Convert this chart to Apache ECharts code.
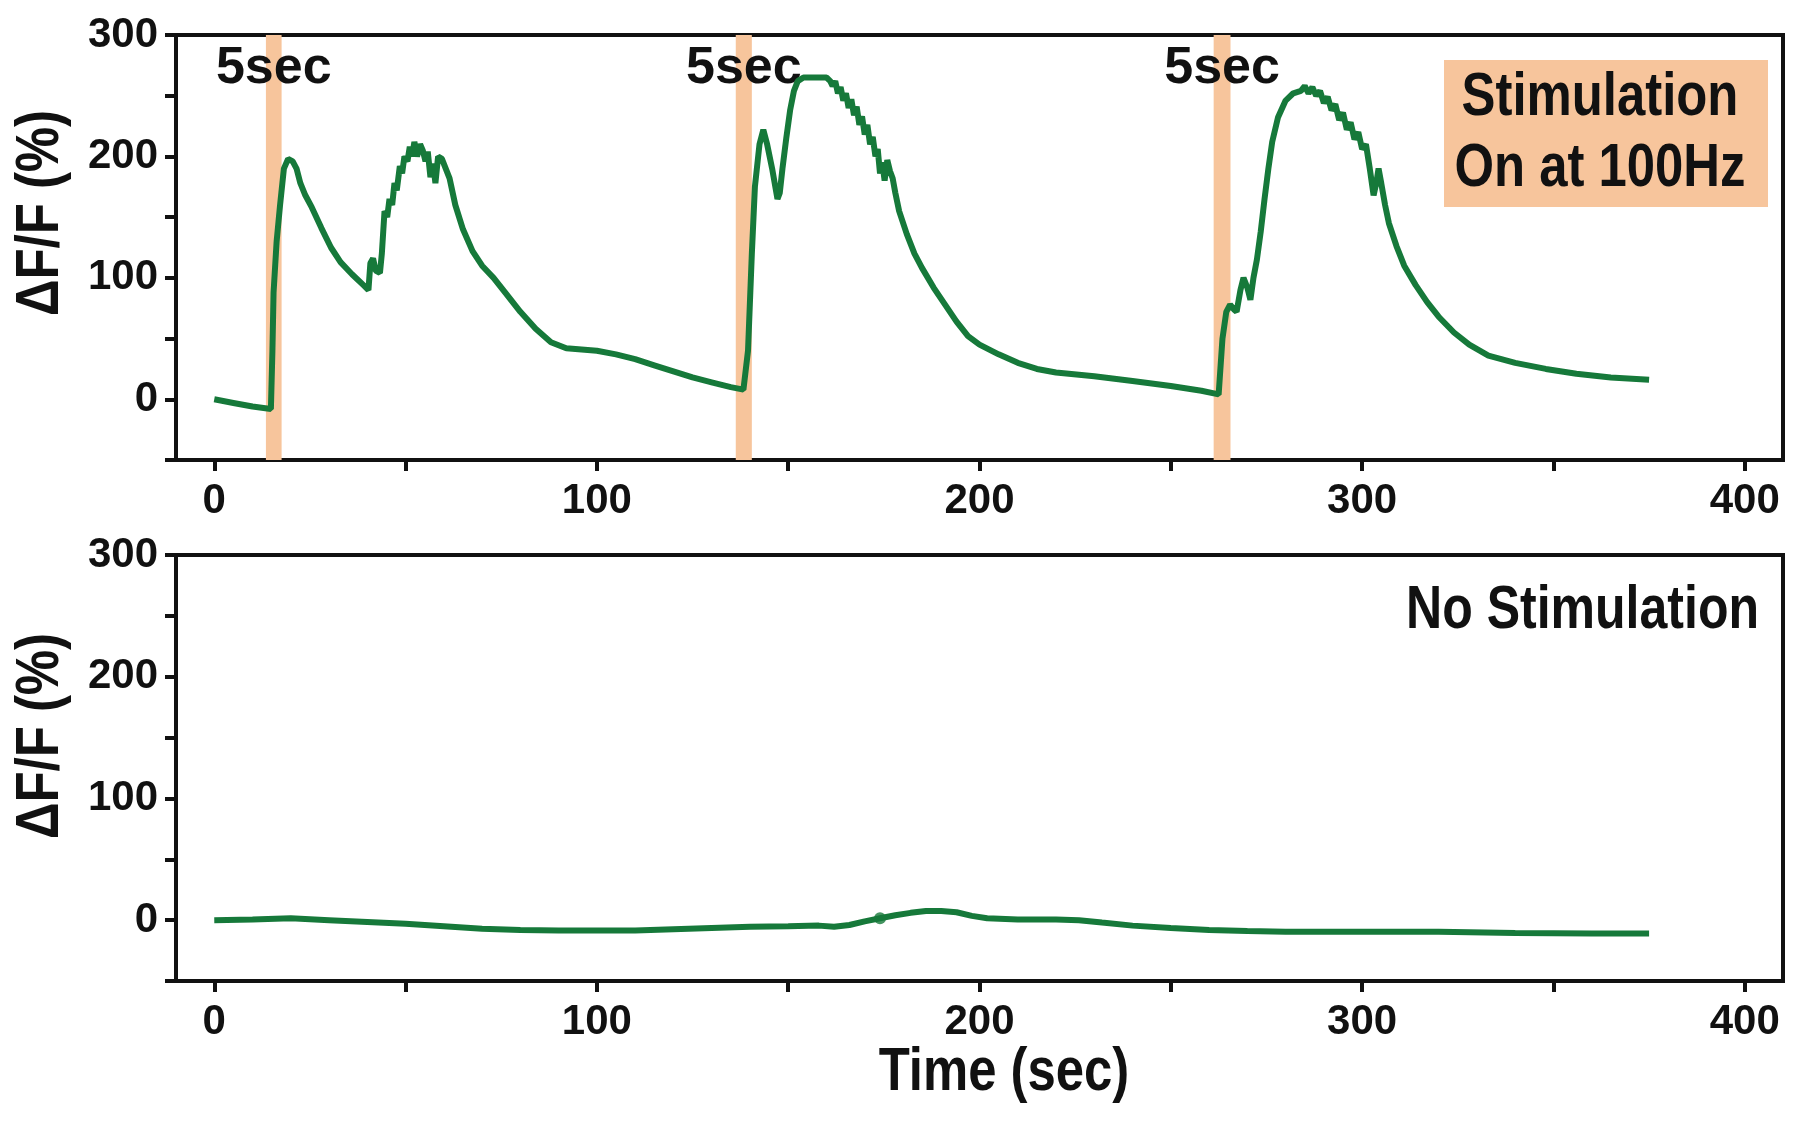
<!DOCTYPE html>
<html>
<head>
<meta charset="utf-8">
<script src="https://cdn.jsdelivr.net/npm/echarts@6.0.0/dist/echarts.min.js"></script>
<style>
  html, body { margin: 0; padding: 0; background: #fff; }
  #chart { width: 1800px; height: 1121px; }
</style>
</head>
<body>
<div id="chart"></div>
<script>
// top trace: stimulation on at 100Hz
const timeTop = [0, 5, 10, 14.8, 15.2, 15.5, 16.3, 17.2, 18.2, 19.3, 20.5, 21.5, 22.5, 23.8, 25.5, 28, 30.5, 33, 36, 39, 40.3, 40.8, 41.5, 42.2, 43.3, 43.8, 44.5, 45.2, 45.8, 46.5, 47.1, 47.7, 48.5, 49.1, 49.7, 50.5, 51.1, 51.7, 52.3, 53, 53.8, 54.5, 55.2, 55.8, 56.5, 57.2, 57.8, 58.5, 59.5, 60.5, 61.5, 63, 65, 67.5, 70, 73, 76, 80, 84, 88, 92, 96, 100, 105, 110, 115, 120, 125, 130, 135, 138.3, 139.5, 140.5, 141.3, 142.5, 143.5, 144.5, 145.8, 147.2, 147.8, 148.5, 149.5, 150.5, 151.5, 152.5, 154, 157, 160, 161, 161.6, 162.3, 163, 163.7, 164.4, 165.1, 165.8, 166.5, 167.2, 167.9, 168.6, 169.3, 170, 170.7, 171.4, 172.1, 172.8, 173.4, 174, 174.6, 175.2, 175.9, 176.6, 177.3, 178, 179, 181, 183, 185, 188, 191, 194, 197, 200, 205, 210, 215, 220, 230, 240, 250, 258, 262.5, 263.5, 264.5, 265.5, 266.5, 267.2, 268.2, 269, 270, 270.8, 271.6, 272.5, 273.5, 274.5, 275.5, 276.5, 278, 280, 282, 284, 285, 286, 287, 288, 289, 290, 291, 292, 293, 294, 295, 296, 297, 298, 299, 300, 301, 302, 303, 303.7, 304.3, 305, 306, 307, 309, 311, 314, 317, 320, 324, 328, 333, 340, 348, 356, 365, 375];
const dffTop = [0, -3, -6, -8, 40, 88, 130, 160, 190, 198, 196, 190, 178, 168, 158, 141, 125, 113, 103, 94, 90, 112, 116, 106, 104, 120, 155, 150, 165, 160, 178, 172, 192, 186, 200, 196, 208, 200, 212, 200, 210, 205, 196, 204, 183, 194, 178, 200, 198, 190, 182, 160, 140, 122, 110, 100, 88, 72, 58, 47, 42, 41, 40, 37, 33, 28, 23, 18, 14, 10, 8, 40, 120, 175, 210, 222, 210, 190, 165, 170, 190, 215, 238, 254, 262, 265, 265, 265, 262, 258, 262, 252, 257, 246, 252, 240, 247, 234, 241, 226, 233, 218, 226, 210, 216, 200, 206, 186, 195, 180, 197, 188, 182, 170, 155, 136, 120, 108, 92, 78, 64, 52, 45, 37, 30, 25, 22, 19, 15, 11, 7, 4, 50, 72, 78, 74, 72, 90, 100, 92, 82, 100, 115, 138, 165, 190, 212, 232, 246, 252, 254, 258, 252, 257, 250, 254, 244, 249, 238, 243, 230, 236, 222, 228, 214, 220, 206, 210, 190, 168, 178, 190, 178, 160, 145, 126, 110, 94, 80, 68, 55, 45, 36, 30, 25, 21, 18, 16];

// bottom trace: no stimulation
const timeBottom = [0, 10, 20, 30, 40, 50, 60, 70, 80, 90, 100, 110, 120, 130, 140, 150, 158, 162, 166, 170, 174, 178, 182, 186, 190, 194, 198, 202, 210, 220, 226, 232, 240, 250, 260, 270, 280, 300, 320, 340, 360, 375];
const dffBottom = [0, 0.5, 1.5, 0, -1.5, -3, -5, -7, -8, -8.5, -8.5, -8.5, -7.5, -6.5, -5.5, -5, -4.5, -5.5, -4, -1, 1.5, 4, 6, 7.5, 7.5, 6.5, 3.5, 1.5, 0.5, 0.5, 0, -2, -4.5, -6.5, -8, -9, -9.5, -9.5, -9.5, -10.5, -11, -11];
const bottomDot = [174, 1.5];

// 5 s stimulation windows
const stimStart = [13.5, 136.3, 261.2];
const stimEnd = [17.6, 140.5, 265.6];
const stimLabel = '5sec';

// ticks
const xTicks = [0, 50, 100, 150, 200, 250, 300, 350, 400];
const xLabels = [0, 100, 200, 300, 400];
const yTicks = [-50, 0, 50, 100, 150, 200, 250, 300];
const yLabels = [0, 100, 200, 300];

const FONT = '"Liberation Sans", Arial, sans-serif';
const INK = '#111';
const GREEN = '#16793a';
const PEACH = '#f7c59c';
const NARROW = 0.82; // squeeze free text to look like a condensed face

const pairs = (xs, ys) => xs.map((x, i) => [x, ys[i]]);

const xAxisFor = (gi) => ({
  type: 'value', gridIndex: gi, min: -10, max: 410,
  axisLine: { show: true, onZero: false, lineStyle: { color: INK, width: 4 } },
  axisTick: { show: true, customValues: xTicks, length: 11, lineStyle: { color: INK, width: 4 } },
  axisLabel: { customValues: xLabels, color: INK, fontSize: 42, fontWeight: 'bold', fontFamily: FONT, margin: 20 },
  splitLine: { show: false }
});

const yAxisFor = (gi) => ({
  type: 'value', gridIndex: gi, min: -50, max: 300,
  axisLine: { show: true, onZero: false, lineStyle: { color: INK, width: 4 } },
  axisTick: { show: true, customValues: yTicks, length: 11, lineStyle: { color: INK, width: 4 } },
  axisLabel: { customValues: yLabels, color: INK, fontSize: 42, fontWeight: 'bold', fontFamily: FONT, margin: 18 },
  splitLine: { show: false }
});

const bigText = (text, x, y, extra, align, size) => Object.assign({
  type: 'text', x: x, y: y, scaleX: NARROW,
  style: { text: text, fill: INK, fontSize: size || 62, fontWeight: 'bold', fontFamily: FONT, align: align || 'center', verticalAlign: 'middle' }
}, extra || {});

const chart = echarts.init(document.getElementById('chart'), null, { renderer: 'canvas' });

chart.setOption({
  animation: false,
  backgroundColor: '#fff',
  textStyle: { fontFamily: FONT },
  grid: [
    { left: 176, right: 17, top: 35, height: 425, show: true, borderColor: INK, borderWidth: 4, backgroundColor: 'transparent' },
    { left: 176, right: 17, top: 555, height: 426, show: true, borderColor: INK, borderWidth: 4, backgroundColor: 'transparent' }
  ],
  xAxis: [xAxisFor(0), xAxisFor(1)],
  yAxis: [yAxisFor(0), yAxisFor(1)],
  series: [
    {
      type: 'line', xAxisIndex: 0, yAxisIndex: 0,
      data: pairs(timeTop, dffTop),
      showSymbol: false,
      lineStyle: { color: GREEN, width: 6 },
      markArea: {
        silent: true,
        itemStyle: { color: PEACH },
        label: {
          show: true, position: 'insideTop', distance: 8,
          color: INK, fontSize: 52, fontWeight: 'bold', fontFamily: FONT,
          formatter: (p) => p.name
        },
        data: stimStart.map((s, i) => [{ xAxis: s, name: stimLabel }, { xAxis: stimEnd[i] }])
      }
    },
    {
      type: 'line', xAxisIndex: 1, yAxisIndex: 1,
      data: pairs(timeBottom, dffBottom),
      showSymbol: false,
      lineStyle: { color: GREEN, width: 6 }
    },
    {
      type: 'scatter', xAxisIndex: 1, yAxisIndex: 1,
      data: [bottomDot],
      symbolSize: 12,
      itemStyle: { color: GREEN }
    }
  ],
  graphic: [
    bigText('\u0394F/F (%)', 41, 213, { rotation: Math.PI / 2 }),
    bigText('\u0394F/F (%)', 41, 736, { rotation: Math.PI / 2 }),
    bigText('Time (sec)', 1004, 1073),
    {
      type: 'rect', shape: { x: 1444, y: 60, width: 324, height: 147 },
      style: { fill: PEACH }, z: 5
    },
    bigText('Stimulation', 1600, 98, { z: 6 }),
    bigText('On at 100Hz', 1600, 169, { z: 6 }),
    bigText('No Stimulation', 1759, 611, null, 'right', 61)
  ]
});
</script>
</body>
</html>
